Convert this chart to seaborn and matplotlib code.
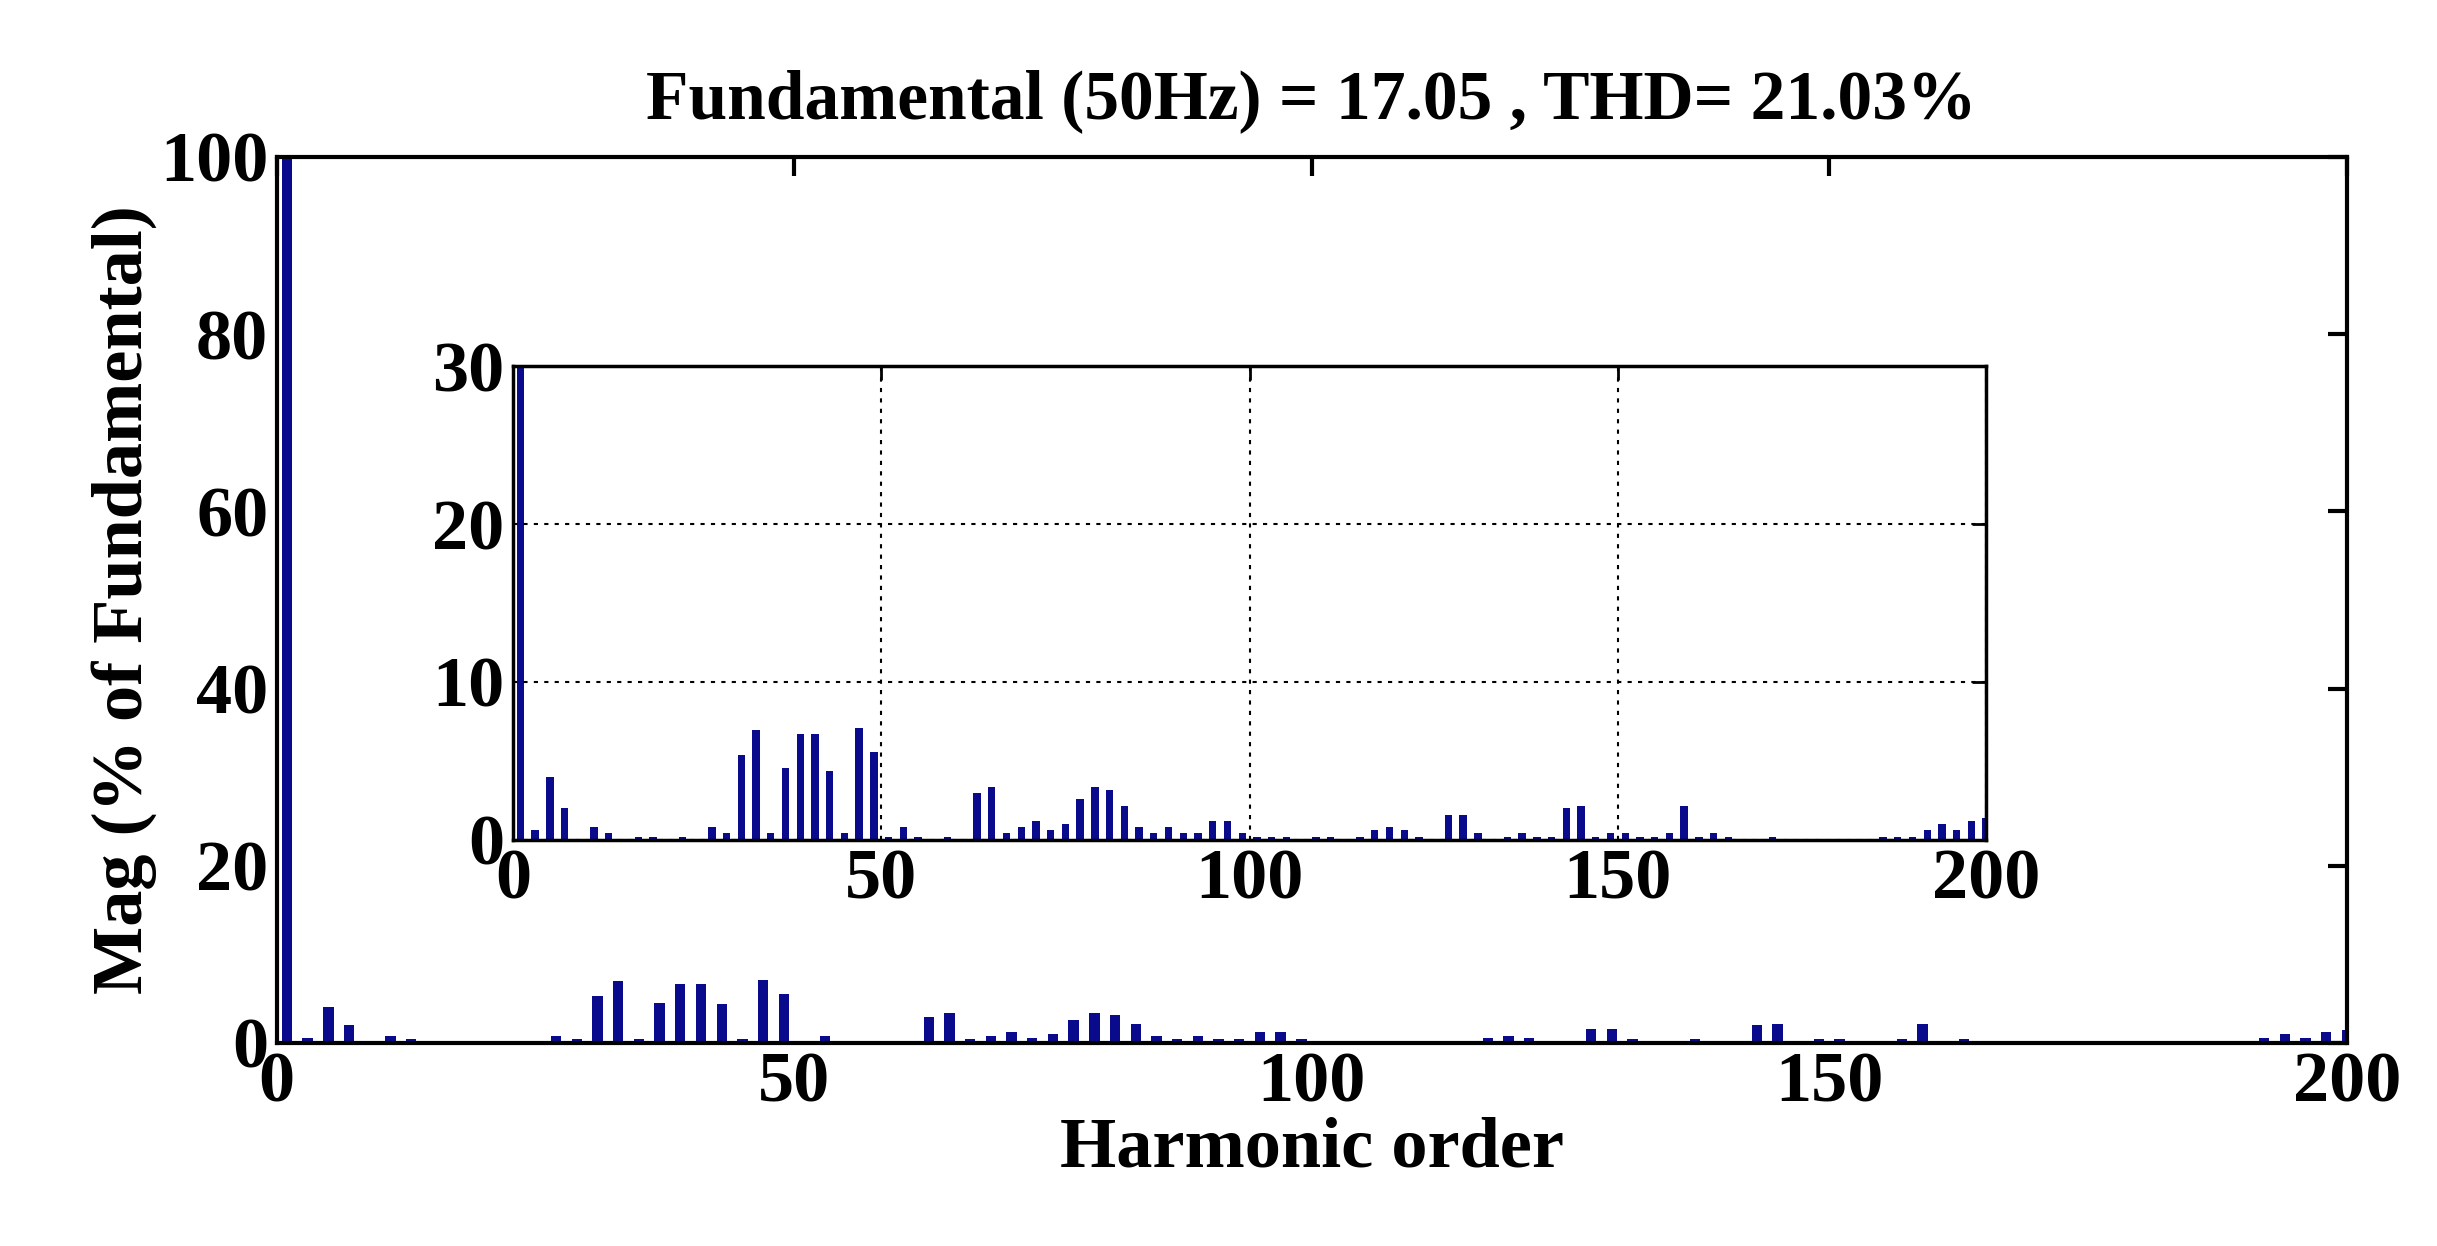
import numpy as np
import pandas as pd
import matplotlib
matplotlib.use("Agg")
import matplotlib.pyplot as plt
import seaborn as sns

# ===== Harmonic spectrum (% of fundamental) =====
harmonics = [1, 3, 5, 7, 11, 13, 17, 19, 23, 27, 29, 31, 33, 35, 37, 39, 41, 43, 45, 47, 49,
             51, 53, 55, 59, 63, 65, 67, 69, 71, 73, 75, 77, 79, 81, 83, 85, 87, 89, 91, 93,
             95, 97, 99, 101, 103, 105, 109, 111, 115, 117, 119, 121, 123, 127, 129, 131,
             135, 137, 139, 141, 143, 145, 147, 149, 151, 153, 155, 157, 159, 161, 163, 165,
             171, 186, 188, 190, 192, 194, 196, 198, 200]
magnitude = [100, 0.6, 4.0, 2.0, 0.8, 0.4, 0.2, 0.2, 0.2, 0.8, 0.4, 5.35, 6.95, 0.4, 4.55, 6.7,
             6.7, 4.35, 0.4, 7.1, 5.55,
             0.2, 0.8, 0.2, 0.2, 2.95, 3.35, 0.4, 0.8, 1.2, 0.6, 1.0, 2.6, 3.35, 3.15, 2.15, 0.8,
             0.4, 0.8, 0.4, 0.4,
             1.2, 1.2, 0.4, 0.2, 0.2, 0.2, 0.2, 0.2, 0.2, 0.6, 0.8, 0.6, 0.2, 1.6, 1.6, 0.4,
             0.2, 0.4, 0.2, 0.2, 2.0, 2.15, 0.2, 0.4, 0.4, 0.2, 0.2, 0.4, 2.15, 0.2, 0.4, 0.2,
             0.2, 0.2, 0.2, 0.2, 0.6, 1.0, 0.6, 1.2, 1.4]

title_text = "Fundamental (50Hz) = 17.05 , THD= 21.03%"
bar_color = "#0A0A8C"

df = pd.DataFrame({"h": harmonics, "mag": magnitude})

sns.set_style("white")
plt.rcParams["font.family"] = ["Liberation Serif", "DejaVu Serif"]
plt.rcParams["font.weight"] = "bold"
plt.rcParams["text.color"] = "black"
plt.rcParams["xtick.color"] = "black"
plt.rcParams["ytick.color"] = "black"
plt.rcParams["axes.labelcolor"] = "black"

fig = plt.figure(figsize=(24.37, 12.46), dpi=100)

# ===== Main axes =====
ax = fig.add_axes([0.1135, 0.163, 0.8495, 0.711])
sns.barplot(data=df, x="h", y="mag", native_scale=True, orient="x", width=0.5,
            color=bar_color, saturation=1, linewidth=0, ax=ax)
ax.set_xlim(0, 200)
ax.set_ylim(0, 100)
ax.set_xticks([0, 50, 100, 150, 200])
ax.set_yticks([0, 20, 40, 60, 80, 100])
ax.set_xlabel("Harmonic order", fontsize=52, fontweight="bold", labelpad=0)
ax.set_ylabel("Mag (% of Fundamental)", fontsize=52, fontweight="bold", labelpad=2)
ax.set_title(title_text, fontsize=50, fontweight="bold", pad=28)
ax.tick_params(direction="in", length=14, width=3, labelsize=52, top=True, right=True, pad=6)
for s in ax.spines.values():
    s.set_linewidth(3)
    s.set_color("black")

# ===== Inset =====
ins = fig.add_axes([0.2105, 0.326, 0.6045, 0.38])
sns.barplot(data=df, x="h", y="mag", native_scale=True, orient="x", width=0.5,
            color=bar_color, saturation=1, linewidth=0, ax=ins)
ins.set_xlim(0, 200)
ins.set_ylim(0, 30)
ins.set_xticks([0, 50, 100, 150, 200])
ins.set_yticks([0, 10, 20, 30])
ins.set_xlabel("")
ins.set_ylabel("")
ins.grid(True, color="black", linestyle=(0, (2, 3)), linewidth=1.5)
ins.set_axisbelow(False)
ins.tick_params(direction="in", length=10, width=2, labelsize=52, top=True, right=True, pad=6)
for s in ins.spines.values():
    s.set_linewidth(2.5)
    s.set_color("black")

fig.savefig("out.png", dpi=100, facecolor="white")
